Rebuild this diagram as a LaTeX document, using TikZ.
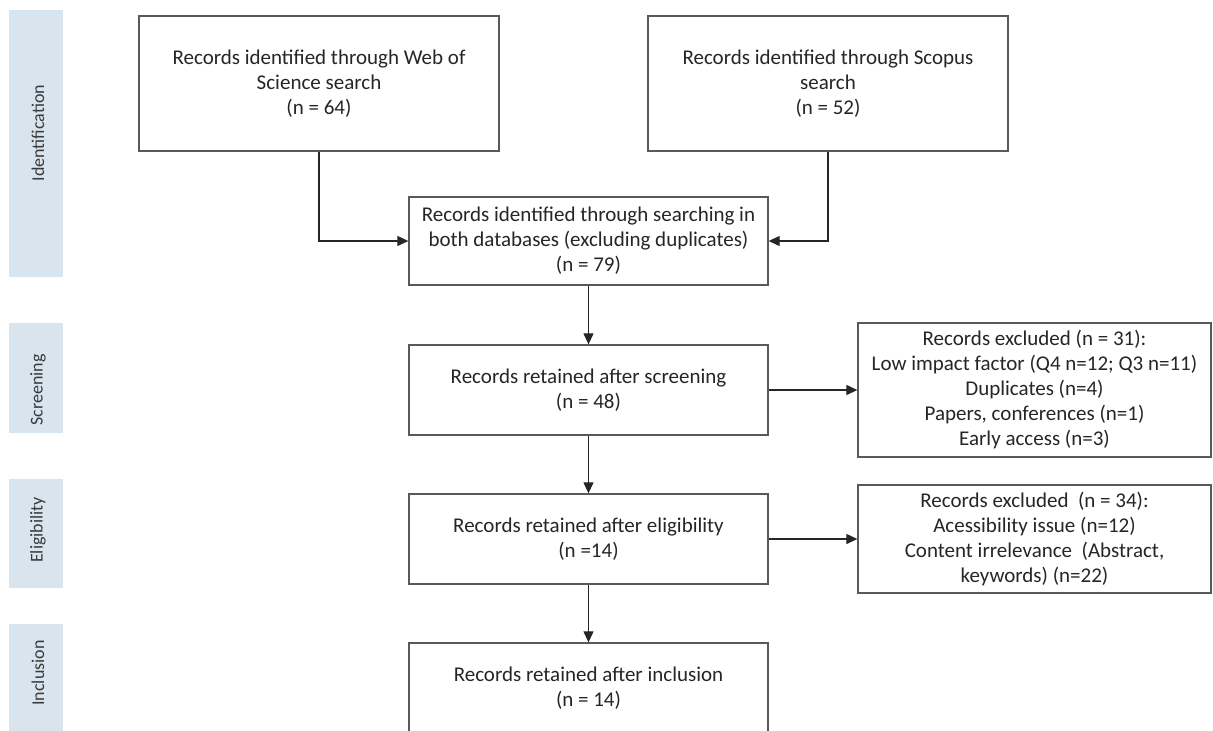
\documentclass[tikz,border=0pt]{standalone}
\usepackage{fontspec}
\setmainfont{Carlito}
\usetikzlibrary{arrows.meta}
\definecolor{boxline}{HTML}{595959}
\definecolor{txt}{HTML}{262626}
\definecolor{barblue}{HTML}{D8E4EE}
\definecolor{bartxt}{HTML}{3A3A3A}
\begin{document}
\begin{tikzpicture}[x=1pt,y=-1pt,
  box/.style={draw=boxline, line width=1.3pt, fill=white, text=txt, align=center,
    font=\fontsize{21}{25}\selectfont, inner sep=0pt},
  bartext/.style={rotate=90, text=bartxt, font=\fontsize{18}{21}\selectfont, inner sep=0pt},
  conn/.style={draw=black!85, line width=1.1pt, -{Triangle[length=11pt,width=10pt]}}]
\useasboundingbox (0,0) rectangle (1213,731);
\begin{scope}
\clip (0,0) rectangle (1213,731);
% phase bars
\fill[barblue] (9,10) rectangle (63,277);
\fill[barblue] (9,323) rectangle (63,433);
\fill[barblue] (9,479) rectangle (63,588);
\fill[barblue] (9,624) rectangle (63,740);
\node[bartext] (lid) at (38,133) {Identification};
\node[bartext] (lsc) at (38,390) {Screening};
\node[bartext] (lel) at (38,530) {Eligibility};
\node[bartext] (lin) at (38,673) {Inclusion};
% boxes
\node[box, minimum width=360pt, minimum height=135pt] (wos) at (319,83.5)
  {Records identified through Web of\\Science search\\(n = 64)};
\node[box, minimum width=360pt, minimum height=135pt] (sco) at (828,83.5)
  {Records identified through Scopus\\search\\(n = 52)};
\node[box, minimum width=359pt, minimum height=88pt] (all) at (588.5,241)
  {Records identified through searching in\\both databases (excluding duplicates)\\(n = 79)};
\node[box, minimum width=359pt, minimum height=90pt] (scr) at (588.5,390)
  {Records retained after screening\\(n = 48)};
\node[box, minimum width=359pt, minimum height=90pt] (eli) at (588.5,539)
  {Records retained after eligibility\\(n =14)};
\node[box, minimum width=359pt, minimum height=90pt] (inc) at (588.5,688)
  {Records retained after inclusion\\(n = 14)};
\node[box, minimum width=353pt, minimum height=134pt] (ex1) at (1034.5,390)
  {Records excluded (n = 31):\\Low impact factor (Q4 n=12; Q3 n=11)\\Duplicates (n=4)\\Papers, conferences (n=1)\\Early access (n=3)};
\node[box, minimum width=353pt, minimum height=108pt] (ex2) at (1034.5,539)
  {Records excluded\ \ (n = 34):\\Acessibility issue (n=12)\\Content irrelevance\ \ (Abstract,\\keywords) (n=22)};
% connectors
\draw[conn] (wos.south) |- (all.west);
\draw[conn] (sco.south) |- (all.east);
\draw[conn] (all.south) -- (scr.north);
\draw[conn] (scr.east) -- (ex1.west);
\draw[conn] (scr.south) -- (eli.north);
\draw[conn] (eli.east) -- (ex2.west);
\draw[conn] (eli.south) -- (inc.north);
\end{scope}
\end{tikzpicture}
\end{document}
